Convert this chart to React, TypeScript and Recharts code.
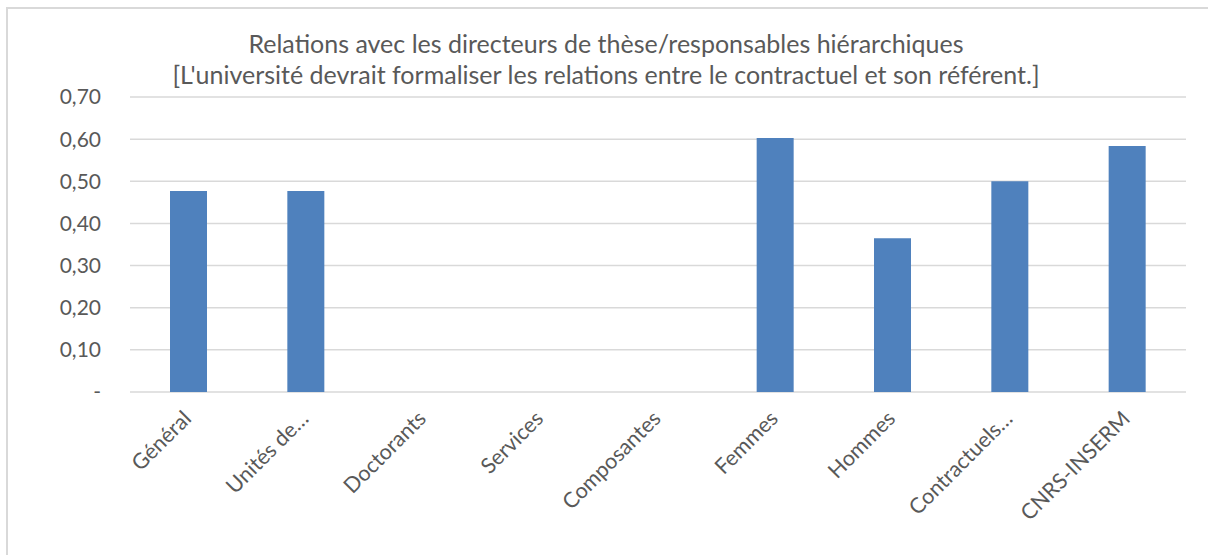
import { BarChart, Bar, XAxis, YAxis, CartesianGrid } from "recharts"

const categories = [
    "Général",
    "Unités de…",
    "Doctorants",
    "Services",
    "Composantes",
    "Femmes",
    "Hommes",
    "Contractuels…",
    "CNRS-INSERM",
]

const values = [0.477, 0.477, 0, 0, 0, 0.603, 0.365, 0.5, 0.584]

const yTicks = [0, 0.1, 0.2, 0.3, 0.4, 0.5, 0.6, 0.7]

const titleLines = [
    "Relations avec les directeurs de thèse/responsables hiérarchiques",
    "[L'université devrait formaliser les relations entre le contractuel et son référent.]",
]

const data = categories.map((name, i) => ({ name, value: values[i] }))

const FONT = "Lato, 'Open Sans', sans-serif"
const TEXT = "#595959"
const GRID = "#D9D9D9"

const fmtTick = (v: number) => (v === 0 ? "-" : v.toFixed(2).replace(".", ","))

function XTick(props: any) {
    const { x, y, payload } = props
    const tx = x + 4
    const ty = y + 20
    return (
        <text
            x={tx}
            y={ty}
            transform={`rotate(-45, ${tx}, ${ty})`}
            textAnchor="end"
            fill={TEXT}
            fontSize={21.5}
            fontFamily={FONT}
        >
            {payload.value}
        </text>
    )
}

export default function App() {
    return (
        <div style={{ position: "fixed", left: 0, top: 0, width: 1208, height: 555, overflow: "hidden", background: "#fff" }}>
            {/* chart frame: only top and left edges fall inside the picture */}
            <div
                style={{
                    position: "absolute",
                    left: 6,
                    top: 7,
                    width: 1300,
                    height: 600,
                    borderTop: `2px solid ${GRID}`,
                    borderLeft: `2px solid ${GRID}`,
                }}
            />
            <div style={{ position: "absolute", left: 0, top: 0 }}>
                <BarChart
                    width={1208}
                    height={555}
                    data={data}
                    margin={{ top: 97, right: 22, bottom: 0, left: 0 }}
                    barCategoryGap={0}
                >
                    <CartesianGrid vertical={false} stroke={GRID} strokeWidth={1.5} />
                    <XAxis
                        dataKey="name"
                        height={163}
                        interval={0}
                        axisLine={false}
                        tickLine={false}
                        tick={<XTick />}
                    />
                    <YAxis
                        width={130}
                        domain={[0, 0.7]}
                        ticks={yTicks}
                        tickFormatter={fmtTick}
                        axisLine={false}
                        tickLine={false}
                        tickSize={0}
                        tickMargin={29}
                        tick={{ fill: TEXT, fontSize: 21, fontFamily: FONT }}
                    />
                    <Bar dataKey="value" fill="#4F81BD" barSize={37} isAnimationActive={false} />
                </BarChart>
            </div>
            <svg width={1208} height={100} style={{ position: "absolute", left: 0, top: 0 }}>
                {titleLines.map((t, i) => (
                    <text
                        key={i}
                        x={606}
                        y={53 + i * 31}
                        textAnchor="middle"
                        fill={TEXT}
                        fontSize={25}
                        fontFamily={FONT}
                    >
                        {t}
                    </text>
                ))}
            </svg>
        </div>
    )
}
